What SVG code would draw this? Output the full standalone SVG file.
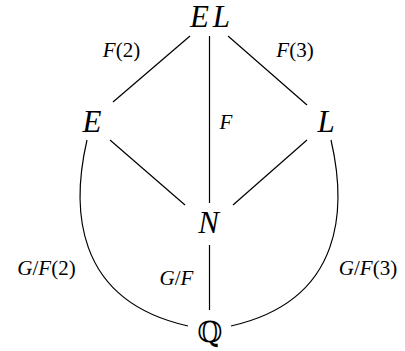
<svg xmlns="http://www.w3.org/2000/svg" width="405" height="351" viewBox="0 0 405 351">
<style>
text{font-family:'Liberation Serif','Times New Roman',serif;fill:#000}
.big{font-style:italic;font-size:31px;text-anchor:middle}
.lbl{font-style:italic;font-size:21px;text-anchor:middle}
.up{font-style:normal}
.bb{font-family:'DejaVu Serif','DejaVu Sans',serif;font-size:29px;text-anchor:middle}
.e{fill:none;stroke:#000;stroke-width:1.2}
</style>
<rect width="405" height="351" fill="#fff"/>
<g id="connectors">
<line class="e" x1="190" y1="36" x2="113" y2="102"/>
<line class="e" x1="228" y1="36" x2="307" y2="105"/>
<line class="e" x1="209.5" y1="36" x2="209.5" y2="203"/>
<line class="e" x1="110" y1="140" x2="185" y2="205"/>
<line class="e" x1="307" y1="140" x2="233" y2="205"/>
<line class="e" x1="209.5" y1="245" x2="209.5" y2="310"/>
<path class="e" d="M87 140 C72 205 72 300 188 326"/>
<path class="e" d="M331 140 C346 205 346 300 231 326"/>
<text class="lbl" x="121.5" y="57">F<tspan class="up">(2)</tspan></text>
<text class="lbl" x="295" y="57">F<tspan class="up">(3)</tspan></text>
<text class="lbl" x="226" y="129">F</text>
<text class="lbl" x="46.5" y="275">G<tspan class="up">/</tspan>F<tspan class="up">(2)</tspan></text>
<text class="lbl" x="176.5" y="285">G<tspan class="up">/</tspan>F</text>
<text class="lbl" x="368" y="275">G<tspan class="up">/</tspan>F<tspan class="up">(3)</tspan></text>
</g>
<g id="node-EL"><text class="big" x="210" y="27" font-size="30" textLength="40" lengthAdjust="spacing">EL</text></g>
<g id="node-E"><text class="big" x="92" y="132">E</text></g>
<g id="node-L"><text class="big" x="326" y="132">L</text></g>
<g id="node-N"><text class="big" x="208.5" y="233">N</text></g>
<g id="node-Q"><text class="bb" x="210" y="342">ℚ</text></g>
</svg>
